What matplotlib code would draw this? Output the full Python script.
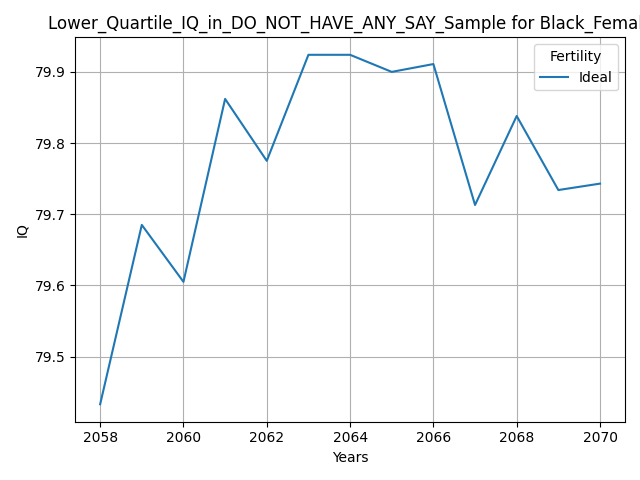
import matplotlib
matplotlib.use("Agg")
import matplotlib.pyplot as plt

years = [2058, 2059, 2060, 2061, 2062, 2063, 2064, 2065, 2066, 2067, 2068, 2069, 2070]
ideal = [79.433, 79.685, 79.605, 79.862, 79.775, 79.924, 79.924, 79.900, 79.911, 79.713, 79.838, 79.734, 79.743]

fig, ax = plt.subplots(figsize=(6.4, 4.8), dpi=100)
ax.plot(years, ideal, label="Ideal")
ax.set_title("Lower_Quartile_IQ_in_DO_NOT_HAVE_ANY_SAY_Sample for Black_Female")
ax.set_xlabel("Years")
ax.set_ylabel("IQ")
ax.set_xticks(range(2058, 2071, 2))
ax.grid(True)
ax.legend(title="Fertility", loc="upper right")
fig.tight_layout()
fig.savefig("out.png")
